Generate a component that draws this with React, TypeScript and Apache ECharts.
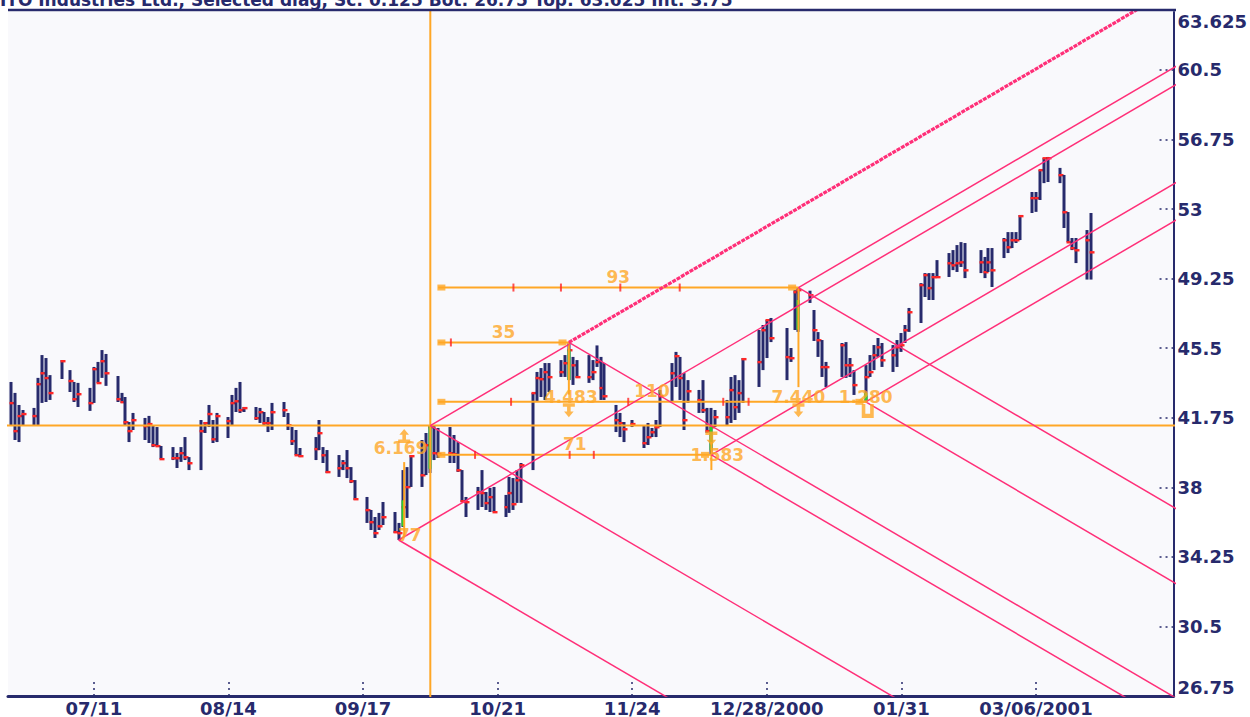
import React, { useEffect, useRef } from "react";
import * as echarts from "echarts";

const titleText = "ITO Industries Ltd., Selected diag, Sc: 0.125 Bot: 26.75 Top: 63.625 Int: 3.75";

const dates = [
  "2000-06-20","2000-06-21","2000-06-22","2000-06-23",
  "2000-06-26","2000-06-27","2000-06-28","2000-06-29","2000-06-30",
  "2000-07-03","2000-07-05","2000-07-06","2000-07-07",
  "2000-07-10","2000-07-11","2000-07-12","2000-07-13","2000-07-14",
  "2000-07-17","2000-07-18","2000-07-19","2000-07-20","2000-07-21",
  "2000-07-24","2000-07-25","2000-07-26","2000-07-27","2000-07-28",
  "2000-07-31","2000-08-01","2000-08-02","2000-08-03","2000-08-04",
  "2000-08-07","2000-08-08","2000-08-09","2000-08-10","2000-08-11",
  "2000-08-14","2000-08-15","2000-08-16","2000-08-17","2000-08-18",
  "2000-08-21","2000-08-22","2000-08-23","2000-08-24","2000-08-25",
  "2000-08-28","2000-08-29","2000-08-30","2000-08-31","2000-09-01",
  "2000-09-05","2000-09-06","2000-09-07","2000-09-08",
  "2000-09-11","2000-09-12","2000-09-13","2000-09-14","2000-09-15",
  "2000-09-18","2000-09-19","2000-09-20","2000-09-21","2000-09-22",
  "2000-09-25","2000-09-26","2000-09-27","2000-09-28","2000-09-29",
  "2000-10-02","2000-10-03","2000-10-04","2000-10-05","2000-10-06",
  "2000-10-09","2000-10-10","2000-10-11","2000-10-12","2000-10-13",
  "2000-10-16","2000-10-17","2000-10-18","2000-10-19","2000-10-20",
  "2000-10-23","2000-10-24","2000-10-25","2000-10-26","2000-10-27",
  "2000-10-30","2000-10-31","2000-11-01","2000-11-02","2000-11-03",
  "2000-11-06","2000-11-07","2000-11-08","2000-11-09","2000-11-10",
  "2000-11-13","2000-11-14","2000-11-15","2000-11-16","2000-11-17",
  "2000-11-20","2000-11-21","2000-11-22","2000-11-24",
  "2000-11-27","2000-11-28","2000-11-29","2000-11-30","2000-12-01",
  "2000-12-04","2000-12-05","2000-12-06","2000-12-07","2000-12-08",
  "2000-12-11","2000-12-12","2000-12-13","2000-12-14","2000-12-15",
  "2000-12-18","2000-12-19","2000-12-20","2000-12-21","2000-12-22",
  "2000-12-26","2000-12-27","2000-12-28","2000-12-29",
  "2001-01-02","2001-01-03","2001-01-04","2001-01-05",
  "2001-01-08","2001-01-09","2001-01-10","2001-01-11","2001-01-12",
  "2001-01-16","2001-01-17","2001-01-18","2001-01-19",
  "2001-01-22","2001-01-23","2001-01-24","2001-01-25","2001-01-26",
  "2001-01-29","2001-01-30","2001-01-31","2001-02-01","2001-02-02",
  "2001-02-05","2001-02-06","2001-02-07","2001-02-08","2001-02-09",
  "2001-02-12","2001-02-13","2001-02-14","2001-02-15","2001-02-16",
  "2001-02-20","2001-02-21","2001-02-22","2001-02-23",
  "2001-02-26","2001-02-27","2001-02-28","2001-03-01","2001-03-02",
  "2001-03-05","2001-03-06","2001-03-07","2001-03-08","2001-03-09",
  "2001-03-12","2001-03-13","2001-03-14","2001-03-15","2001-03-16",
  "2001-03-19","2001-03-20",
];

const highs = [
  43.68, 43.09, 42.44, 42.17,
  42.28, 43.90, 45.13, 44.97, 44.05,
  44.86, 44.32, 43.68, 43.63,
  43.36, 44.49, 44.76, 45.40, 45.19,
  44.00, 43.09, 42.87, 41.52, 42.01,
  41.74, 41.85, 41.31, 41.25, 40.23,
  40.17, 39.85, 40.17, 40.71, 39.63,
  41.63, 41.52, 42.44, 41.63, 42.01,
  41.79, 42.98, 43.36, 43.68, 42.33,
  42.33, 42.28, 42.06, 41.79, 42.55,
  42.60, 42.01, 41.25, 41.09, 40.12,
  40.71, 41.63, 40.17, 40.01,
  39.74, 39.47, 40.01, 39.09, 38.39,
  37.48, 36.78, 36.40, 36.62, 37.21,
  36.67, 36.08, 38.93, 39.09, 39.74,
  40.55, 40.93, 41.33, 41.30, 41.20,
  41.25, 40.82, 40.44, 38.93, 37.48,
  38.02, 38.93, 37.75, 37.97, 38.02,
  37.59, 38.56, 38.50, 38.93, 39.31,
  43.09, 44.22, 44.43, 44.70, 44.70,
  44.86, 45.13, 45.81, 45.03, 44.86,
  45.13, 44.86, 45.65, 45.03, 44.70,
  42.44, 42.01, 41.52, 41.63,
  41.36, 41.47, 41.20, 41.63, 43.25,
  44.70, 45.30, 45.03, 44.16, 43.78,
  43.25, 43.78, 42.28, 42.28, 42.17,
  42.71, 43.95, 44.05, 43.78, 44.97,
  46.48, 46.75, 47.02, 47.13,
  46.59, 45.51, 48.64, 48.77,
  48.60, 47.56, 46.37, 45.94, 44.76,
  45.78, 45.83, 44.97, 44.32,
  44.59, 45.13, 45.67, 46.05, 45.78,
  45.67, 45.94, 46.32, 46.75, 47.67,
  49.01, 49.55, 49.55, 49.55, 50.25,
  50.63, 50.79, 51.06, 51.22, 51.17,
  50.79, 50.42, 50.90, 50.90,
  51.44, 51.76, 51.76, 51.76, 52.68,
  53.92, 53.92, 55.11, 55.75, 55.81,
  55.22, 54.84, 52.84, 51.44, 51.44,
  51.87, 52.79,
];

const lows = [
  41.36, 40.55, 40.44, 41.31,
  41.31, 41.36, 42.55, 42.60, 42.71,
  43.84, 43.14, 42.60, 42.33,
  42.12, 42.55, 43.63, 43.90, 43.47,
  42.60, 42.55, 41.36, 40.44, 41.09,
  40.55, 40.39, 40.17, 40.23, 39.53,
  39.47, 39.04, 39.37, 39.47, 38.93,
  38.93, 40.93, 41.25, 40.39, 40.44,
  40.66, 41.36, 42.06, 42.01, 42.06,
  41.63, 41.47, 41.36, 40.98, 41.09,
  41.79, 41.09, 40.28, 39.74, 39.63,
  39.47, 40.01, 39.31, 38.77,
  38.56, 38.93, 38.50, 38.23, 37.32,
  36.08, 35.70, 35.27, 35.70, 35.97,
  35.54, 35.16, 35.86, 36.35, 38.02,
  38.02, 38.66, 38.77, 39.47, 39.58,
  39.31, 39.31, 38.83, 37.21, 36.40,
  36.78, 36.94, 36.78, 36.67, 36.67,
  36.40, 36.62, 36.78, 37.16, 37.16,
  38.93, 42.60, 42.87, 42.71, 43.14,
  43.95, 43.95, 43.78, 43.52, 43.90,
  43.63, 43.78, 44.49, 42.71, 42.71,
  40.98, 40.71, 40.44, 41.25,
  40.12, 40.28, 40.71, 40.71, 41.25,
  42.60, 43.41, 42.71, 41.09, 42.55,
  42.01, 42.01, 40.93, 39.75, 41.25,
  41.36, 41.47, 41.63, 42.01, 42.55,
  43.41, 44.32, 44.97, 45.83,
  43.78, 44.76, 46.48, 46.38,
  47.94, 45.89, 45.03, 43.95, 43.41,
  43.95, 43.90, 43.95, 42.98,
  42.61, 43.95, 44.32, 45.03, 44.49,
  44.22, 44.49, 45.30, 45.78, 46.38,
  46.86, 48.26, 48.10, 48.10, 49.34,
  49.34, 49.71, 49.61, 49.88, 49.28,
  49.55, 49.28, 49.61, 48.80,
  50.36, 50.63, 50.90, 51.17, 51.33,
  52.79, 52.85, 53.49, 54.40, 54.46,
  54.40, 51.98, 51.22, 50.79, 50.09,
  49.20, 49.20,
];

const closes = [
  42.55, 41.04, 41.85, 41.96,
  41.85, 43.57, 44.16, 43.90, 43.09,
  44.81, 43.74, 42.76, 43.03,
  42.55, 44.38, 43.63, 44.81, 44.16,
  42.76, 42.60, 41.52, 41.04, 41.63,
  41.31, 41.42, 40.28, 40.23, 39.53,
  39.58, 39.58, 39.85, 39.63, 39.31,
  41.04, 41.47, 41.96, 40.60, 41.85,
  41.58, 42.55, 42.65, 42.17, 42.28,
  41.74, 42.06, 41.47, 41.47, 42.06,
  42.17, 41.36, 40.50, 39.74, 39.69,
  40.07, 40.93, 39.74, 38.83,
  39.04, 39.31, 39.04, 38.34, 37.37,
  36.78, 36.13, 35.54, 35.91, 36.40,
  35.59, 35.54, 36.94, 38.02, 39.69,
  38.66, 40.28, 41.25, 39.85, 39.80,
  39.85, 39.80, 38.93, 37.26, 37.21,
  37.75, 37.70, 37.16, 37.48, 36.67,
  36.94, 37.70, 37.10, 38.39, 39.20,
  43.09, 43.90, 43.84, 44.22, 43.95,
  44.22, 44.70, 45.40, 44.59, 43.95,
  43.95, 44.22, 44.76, 43.36, 42.92,
  41.63, 41.47, 41.14, 41.42,
  40.39, 40.71, 40.98, 41.25, 42.92,
  44.16, 45.08, 43.90, 41.63, 43.19,
  42.71, 42.17, 41.04, 41.25, 41.79,
  41.79, 43.25, 42.33, 43.09, 44.92,
  44.76, 46.48, 47.02, 46.05,
  45.03, 44.97, 48.53, 48.64,
  48.37, 46.48, 45.94, 44.49, 44.49,
  45.67, 44.59, 44.59, 43.52,
  43.95, 44.22, 45.13, 45.56, 44.86,
  45.13, 45.56, 45.67, 46.48, 47.45,
  48.91, 49.45, 48.75, 49.34, 49.34,
  50.09, 49.98, 50.09, 50.14, 49.71,
  50.14, 49.61, 50.14, 49.71,
  51.33, 50.95, 51.33, 51.33, 52.63,
  53.60, 53.60, 55.11, 55.75, 55.75,
  54.84, 52.84, 51.22, 50.90, 50.79,
  51.33, 50.68,
];

// Axis ticks
const xTickDates = ["2000-07-11","2000-08-14","2000-09-17","2000-10-21","2000-11-24","2000-12-28","2001-01-31","2001-03-06"];
const xTickLabels = ["07/11","08/14","09/17","10/21","11/24","12/28/2000","01/31","03/06/2001"];
const yTickValues = [26.75, 30.5, 34.25, 38, 41.75, 45.5, 49.25, 53, 56.75, 60.5];
const yLabelValues = [26.75, 30.5, 34.25, 38, 41.75, 45.5, 49.25, 53, 56.75, 60.5, 63.625];
const yLabelTexts = ["26.75","30.5","34.25","38","41.75","45.5","49.25","53","56.75","60.5","63.625"];
const yMin = 26.75;
const yMax = 63.625;
const xMinDay = -21.68;
const xMaxDay = 272.75;

// Pivots (P1..P6) and 1x1 angle step (price per day)
const pivotDates = ["2000-09-26","2000-10-04","2000-11-08","2000-12-14","2001-01-05","2001-01-22"];
const pivotPrices = [35.16, 41.33, 45.81, 39.75, 48.77, 42.61];
const gannStep = 0.125;

// Span measurements from P2
const spanStartDate = "2000-10-06";
const spanLabels = ["35", "71", "93", "110"];
const spanPivot = [2, 3, 4, 5];
const spanTickDays = [90.2, 96.3, 120.2, 126.3, 106, 118, 133, 148, 105.4, 135, 159, 165.4];
const spanTickOf = [0, 1, 1, 1, 2, 2, 2, 2, 3, 3, 3, 3];

// Price-difference labels
const diffLabels = ["6.169", "4.483", "1.583", "7.440", "1.280", "77"];
const diffDays = [77.5, 120.5, 157.5, 178, 195, 79.8];
const diffPrices = [40.1, 42.85, 39.75, 42.87, 42.87, 35.45];

// Arrow markers
const arrowKinds = ["up", "down", "down", "down", "cup"];
const arrowDays = [78.4, 120, 178, 156, 195.5];
const arrowPrices = [40.77, 42.15, 42.15, 40.63, 42.12];

// Orange stems
const stemDays = [78.4, 120, 178, 156];
const stemTops = [39.36, 45.81, 48.77, 40.45];
const stemBottoms = [35.32, 43.0, 43.4, 38.93];

// Green highlighted bar parts
const greenDates = ["2000-09-27","2000-10-04","2000-11-08","2000-12-14","2001-01-05","2001-01-22"];
const greenTops = [37.3, 41.3, 45.4, 41.25, 48.1, 43.1];
const greenBottoms = [35.9, 39.0, 43.8, 40.0, 46.5, 42.6];

const NAVY = "#272a6c";
const RED = "#ff2626";
const PINK = "#ff2f78";
const ORANGE = "#ffa726";
const GREEN = "#2ecc2e";
const CLEAR = "rgba(0,0,0,0)";
const FONT = "'DejaVu Sans', Verdana, sans-serif";

const BASE = Date.UTC(2000, 6, 11);
function dayOf(s: string): number {
  const [y, m, d] = s.split("-").map(Number);
  return (Date.UTC(y, m - 1, d) - BASE) / 86400000;
}

const ARROW_DOWN = "path://M0,0H10V3H6.5V7H9L5,12L1,7H3.5V3H0Z";
const ARROW_UP = "path://M5,0L9,5H6.5V9H10V12H0V9H3.5V5H1Z";
const CUP = "path://M0,0H3V7H7V0H10V10H0Z";

export default function App() {
  const ref = useRef<HTMLDivElement>(null);

  useEffect(() => {
    if (!ref.current) return;
    const chart = echarts.init(ref.current, null, { renderer: "svg" });

    const xTickDays = xTickDates.map(dayOf);
    const barData = dates.map((s, i) => [dayOf(s), highs[i], lows[i], closes[i]]);
    const greenData = greenDates.map((s, i) => [dayOf(s), greenTops[i], greenBottoms[i]]);
    const pDays = pivotDates.map(dayOf);
    const FAR = 420;

    const lineSeries = (data: number[][], color: string, width: number, type: any = "solid", z = 5) => ({
      type: "line",
      data,
      symbol: "none",
      silent: true,
      clip: true,
      z,
      lineStyle: { color, width, type },
    });

    const series: any[] = [];

    // Bars
    series.push({
      type: "custom",
      z: 2,
      data: barData,
      encode: { x: 0, y: [1, 2] },
      clip: true,
      renderItem: (_p: any, api: any) => {
        const d = api.value(0);
        const top = api.coord([d, api.value(1)]);
        const bot = api.coord([d, api.value(2)]);
        const cl = api.coord([d, api.value(3)]);
        const x = Math.round(top[0]);
        return {
          type: "group",
          children: [
            { type: "rect", shape: { x: x - 1.5, y: top[1], width: 3, height: Math.max(1, bot[1] - top[1]) }, style: { fill: NAVY } },
            { type: "rect", shape: { x: x - 1.5, y: cl[1] - 1, width: 5, height: 2.4 }, style: { fill: RED } },
          ],
        };
      },
    });

    // Green highlights
    series.push({
      type: "custom",
      z: 3,
      data: greenData,
      encode: { x: 0, y: [1, 2] },
      renderItem: (_p: any, api: any) => {
        const d = api.value(0);
        const top = api.coord([d, api.value(1)]);
        const bot = api.coord([d, api.value(2)]);
        const x = Math.round(top[0]);
        return { type: "rect", shape: { x: x - 1.5, y: top[1], width: 3, height: bot[1] - top[1] }, style: { fill: GREEN } };
      },
    });

    // Orange reference lines
    const p2d = pDays[1];
    const p2p = pivotPrices[1];
    series.push(lineSeries([[xMinDay - 5, p2p], [xMaxDay + 5, p2p]], ORANGE, 2, "solid", 4));
    series.push(lineSeries([[p2d, yMin - 5], [p2d, yMax + 5]], ORANGE, 2, "solid", 4));
    const sDay = dayOf(spanStartDate);
    spanPivot.forEach((pi) => {
      series.push(lineSeries([[sDay, pivotPrices[pi]], [pDays[pi], pivotPrices[pi]]], ORANGE, 2, "solid", 4));
    });
    stemDays.forEach((d, i) => {
      series.push(lineSeries([[d, stemTops[i]], [d, stemBottoms[i]]], ORANGE, 2, "solid", 4));
    });

    // Pink 1x1 angle lines from pivots
    pDays.forEach((d, i) => {
      const p = pivotPrices[i];
      series.push(lineSeries([[d, p], [FAR, p - gannStep * (FAR - d)]], PINK, 1.5));
      if (i === 1) {
        const d3 = pDays[2];
        series.push(lineSeries([[d, p], [d3, p + gannStep * (d3 - d)]], PINK, 1.5));
      } else if (i === 2) {
        series.push(lineSeries([[d, p], [FAR, p + gannStep * (FAR - d)]], PINK, 3.2, [4, 1], 6));
      } else {
        series.push(lineSeries([[d, p], [FAR, p + gannStep * (FAR - d)]], PINK, 1.5));
      }
    });

    // Span end squares
    const squares: any[] = [];
    spanPivot.forEach((pi) => {
      squares.push([sDay + 0.8, pivotPrices[pi]]);
      squares.push([pDays[pi] - 1.6, pivotPrices[pi]]);
    });
    series.push({
      type: "scatter", z: 6, silent: true, data: squares,
      symbol: "rect", symbolSize: [8, 6], itemStyle: { color: ORANGE },
    });
    // Span ticks
    series.push({
      type: "scatter", z: 6, silent: true,
      data: spanTickDays.map((d, i) => [d, pivotPrices[spanPivot[spanTickOf[i]]]]),
      symbol: "rect", symbolSize: [2, 8], itemStyle: { color: RED },
    });
    // Span labels
    series.push({
      type: "scatter", z: 7, silent: true, symbolSize: 2, itemStyle: { color: CLEAR },
      data: spanPivot.map((pi, i) => ({ name: spanLabels[i], value: [(sDay + pDays[pi]) / 2, pivotPrices[pi]] })),
      label: {
        show: true, position: "top", distance: 1, formatter: (p: any) => p.name,
        color: ORANGE, fontSize: 17, fontWeight: "bold", fontFamily: FONT,
      },
    });
    // Difference labels
    series.push({
      type: "scatter", z: 7, silent: true, symbolSize: 2, itemStyle: { color: CLEAR },
      data: diffLabels.map((t, i) => ({ name: t, value: [diffDays[i], diffPrices[i]] })),
      label: {
        show: true, position: "inside", formatter: (p: any) => p.name,
        color: ORANGE, fontSize: 17, fontWeight: "bold", fontFamily: FONT,
      },
    });
    // Arrow markers
    series.push({
      type: "scatter", z: 7, silent: true,
      data: arrowKinds.map((k, i) => ({
        value: [arrowDays[i], arrowPrices[i]],
        symbol: k === "up" ? ARROW_UP : k === "down" ? ARROW_DOWN : CUP,
      })),
      symbolSize: [12, 14], itemStyle: { color: ORANGE },
    });

    chart.setOption({
      animation: false,
      backgroundColor: "#ffffff",
      textStyle: { fontFamily: FONT },
      grid: { left: 8, right: 74, top: 12, bottom: 21, show: true, backgroundColor: "#f9f9fc", borderWidth: 0 },
      xAxis: {
        type: "value",
        min: xMinDay,
        max: xMaxDay,
        splitLine: { show: false },
        axisLine: { show: true, onZero: false, lineStyle: { color: NAVY, width: 3 } },
        axisTick: {
          show: true, inside: true, length: 14, customValues: xTickDays,
          lineStyle: { color: NAVY, width: 1.5, type: [2, 4] },
        },
        axisLabel: {
          customValues: xTickDays,
          margin: 3,
          color: NAVY, fontWeight: "bold", fontSize: 18, fontFamily: FONT,
          formatter: (v: number) => {
            const i = xTickDays.findIndex((t) => Math.abs(t - v) < 0.01);
            return i >= 0 ? xTickLabels[i] : "";
          },
        },
      },
      yAxis: {
        type: "value",
        position: "right",
        min: yMin,
        max: yMax,
        splitLine: { show: false },
        axisLine: { show: true, onZero: false, lineStyle: { color: NAVY, width: 2 } },
        axisTick: {
          show: true, inside: true, length: 14, customValues: yTickValues,
          lineStyle: { color: NAVY, width: 1.5, type: [2, 4] },
        },
        axisLabel: {
          customValues: yLabelValues,
          margin: 4,
          color: NAVY, fontWeight: "bold", fontSize: 18, fontFamily: FONT,
          verticalAlignMinLabel: "bottom",
          verticalAlignMaxLabel: "top",
          formatter: (v: number) => {
            const i = yLabelValues.findIndex((t) => Math.abs(t - v) < 0.001);
            return i >= 0 ? yLabelTexts[i] : "";
          },
        },
      },
      graphic: [
        {
          type: "text", left: 0, top: -9, z: 10,
          style: { text: titleText, fill: NAVY, font: `bold 17px ${FONT}` },
        },
        {
          type: "line", z: 10,
          shape: { x1: 8, y1: 10, x2: 1176, y2: 10 },
          style: { stroke: NAVY, lineWidth: 2.5 },
        },
      ],
      series,
    });

    return () => chart.dispose();
  }, []);

  return (
    <div
      ref={ref}
      style={{ position: "absolute", left: 0, top: 0, width: 1250, height: 717 }}
    />
  );
}
